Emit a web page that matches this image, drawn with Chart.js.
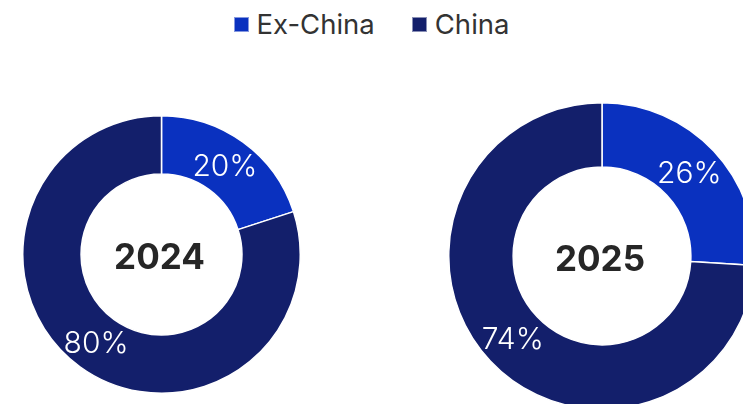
<!DOCTYPE html>
<html>
<head>
<meta charset="utf-8">
<script src="https://cdn.jsdelivr.net/npm/chart.js@4.4.1/dist/chart.umd.min.js"></script>
<style>
    html, body { margin: 0; padding: 0; background: #fff; }
    body { width: 743px; height: 404px; position: relative; overflow: hidden; font-family: Inter, sans-serif; }
    #legend {
        position: absolute; left: 0; top: 7px; width: 743px;
        display: flex; justify-content: center; gap: 37px;
        font-size: 27.5px; color: #333;
    }
    #legend .item { display: flex; align-items: center; }
    #legend .box { width: 15px; height: 15px; margin-right: 8px; box-sizing: border-box; border: 1px solid rgba(255,255,255,0.5); }
    .wrap { position: absolute; }
    #wrap2024 { left: 22px; top: 115px; width: 279px; height: 279px; }
    #wrap2025 { left: 448px; top: 102px; width: 308px; height: 308px; }
</style>
</head>
<body>
<div id="legend"></div>
<div class="wrap" id="wrap2024"><canvas id="chart2024"></canvas></div>
<div class="wrap" id="wrap2025"><canvas id="chart2025"></canvas></div>
<script>
const categories = ['Ex-China', 'China'];
const colors = ['#0a31bf', '#131f6b'];
const years = ['2024', '2025'];
const share2024 = [20, 80];
const share2025 = [26, 74];

// legend shared by both doughnuts
const legendEl = document.getElementById('legend');
categories.forEach((name, i) => {
    const item = document.createElement('div');
    item.className = 'item';
    const box = document.createElement('span');
    box.className = 'box';
    box.style.background = colors[i];
    const label = document.createElement('span');
    label.textContent = name;
    item.appendChild(box);
    item.appendChild(label);
    legendEl.appendChild(item);
});

// percent labels on each slice + year in the hole
const donutText = {
    id: 'donutText',
    afterDatasetsDraw(chart) {
        const ctx = chart.ctx;
        const meta = chart.getDatasetMeta(0);
        const values = chart.data.datasets[0].data;
        ctx.save();
        ctx.textAlign = 'center';
        ctx.textBaseline = 'middle';
        ctx.fillStyle = '#ffffff';
        ctx.font = '300 30px Inter';
        meta.data.forEach((arc, i) => {
            const pos = arc.tooltipPosition();
            ctx.fillText(values[i] + '%', pos.x - 1, pos.y + 1);
        });
        const arc0 = meta.data[0];
        ctx.fillStyle = '#262626';
        ctx.font = '700 35px Inter';
        ctx.fillText(chart.options.plugins.centerLabel, arc0.x - 2, arc0.y + 4);
        ctx.restore();
    }
};

function makeDonut(id, year, values) {
    const ctx = document.getElementById(id).getContext('2d');
    return new Chart(ctx, {
        type: 'doughnut',
        data: {
            labels: categories,
            datasets: [{
                data: values,
                backgroundColor: colors,
                borderColor: '#ffffff',
                borderWidth: 1.5
            }]
        },
        options: {
            responsive: true,
            maintainAspectRatio: false,
            animation: false,
            cutout: '58%',
            layout: { padding: 0 },
            plugins: {
                legend: { display: false },
                tooltip: { enabled: false },
                centerLabel: year
            }
        },
        plugins: [donutText]
    });
}

makeDonut('chart2024', years[0], share2024);
makeDonut('chart2025', years[1], share2025);
</script>
</body>
</html>
